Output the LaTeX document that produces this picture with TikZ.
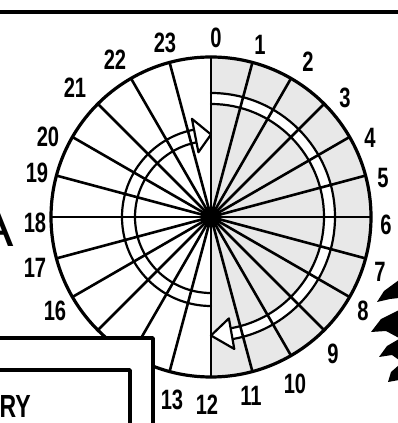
\documentclass[tikz,border=0pt]{standalone}
\usepackage{fontspec}
\newfontfamily\lab[FakeStretch=0.72]{Liberation Sans}
\newfontfamily\plain{Liberation Sans}
\begin{document}
\begin{tikzpicture}[x=1pt,y=1pt,line cap=round,line join=round,
  spoke/.style={line width=2.6pt},
  hr/.style={font=\lab\bfseries\fontsize{28}{28}\selectfont,inner sep=0pt},
  band/.style={line width=2.2pt},
  arrowhd/.style={line width=2.2pt,fill=white},
  rim/.style={line width=3.2pt},
  frame/.style={line width=3.4pt,line cap=butt},
  leaf/.style={fill=black}]
\useasboundingbox (0,0) rectangle (398,423);
\fill[white] (0,0) rectangle (398,423);
\begin{scope}[shift={(211,206)}]
  % stippled right half
  \fill[black!9] (0,0) -- (90:160) arc[start angle=90,end angle=-90,radius=160] -- cycle;
  % white bands
  \fill[white] (90:113) arc[start angle=90,end angle=-82,radius=113] -- (-82:124) arc[start angle=-82,end angle=90,radius=124] -- cycle;
  \fill[white] (-90:76) arc[start angle=-90,end angle=-262,radius=76] -- (-262:89) arc[start angle=-262,end angle=-90,radius=89] -- cycle;
  % spokes
  \foreach \h in {0,...,23} \draw[spoke] (0,0) -- ({90-15*\h}:160);
  % right band (0 -> 12)
  \draw[band] (90:113) arc[start angle=90,end angle=-80,radius=113];
  \draw[band] (90:124) arc[start angle=90,end angle=-80,radius=124];
  \draw[arrowhd] (-80:103) -- (-90:118.5) -- (-80:134) -- cycle;
  % left band (12 -> 0)
  \draw[band] (-90:76) arc[start angle=-90,end angle=-260,radius=76];
  \draw[band] (-90:89) arc[start angle=-90,end angle=-260,radius=89];
  \draw[arrowhd] (-259:66) -- (-270:82.5) -- (-259:100) -- cycle;
  % rim and hub
  \draw[rim] (0,0) circle (160);
  \fill (0,0) circle (10.5);
\end{scope}
% hour labels
\node[hr] (h0) at (216,385) {0};
\node[hr] (h1) at (260,378) {1};
\node[hr] (h2) at (308,361) {2};
\node[hr] (h3) at (345,325) {3};
\node[hr] (h4) at (370,285) {4};
\node[hr] (h5) at (383,245) {5};
\node[hr] (h6) at (386,198) {6};
\node[hr] (h7) at (380,151) {7};
\node[hr] (h8) at (363,112) {8};
\node[hr] (h9) at (333,69) {9};
\node[hr] (h10) at (295,39) {10};
\node[hr] (h11) at (251,27) {11};
\node[hr] (h12) at (207,18) {12};
\node[hr] (h13) at (172,23) {13};
\node[hr] (h16) at (55,112) {16};
\node[hr] (h17) at (35,155) {17};
\node[hr] (h18) at (35,200) {18};
\node[hr] (h19) at (37,250) {19};
\node[hr] (h20) at (48,286) {20};
\node[hr] (h21) at (75,335) {21};
\node[hr] (h22) at (115,363) {22};
\node[hr] (h23) at (165,380) {23};
% box at bottom left
\fill[white] (-5,-5) rectangle (153,85);
\draw[frame] (-5,85) -- (153,85) -- (153,-5);
\draw[frame] (-5,53) -- (130,53) -- (130,-5);
\node[font=\lab\bfseries\fontsize{32}{32}\selectfont,inner sep=0pt,anchor=north east] (txt) at (31,28) {RY};
% top rule
\draw[line width=3.5pt] (-2,411) -- (400,411);
% letter fragment at left
\node[font=\plain\fontsize{56}{56}\selectfont,inner sep=0pt,anchor=south east] (fragA) at (14,176) {A};
% foliage at right
\fill[leaf] (399,143) -- (384,132) -- (377,121) -- (390,124) -- (399,125) -- cycle;
\fill[leaf] (399,113) -- (381,104) -- (371,91) -- (386,92) -- (399,85) -- cycle;
\fill[leaf] (399,84) -- (387,77) -- (379,66) -- (392,68) -- (399,63) -- cycle;
\fill[leaf] (399,58) -- (391,51) -- (388,41) -- (399,43) -- cycle;
\end{tikzpicture}
\end{document}
